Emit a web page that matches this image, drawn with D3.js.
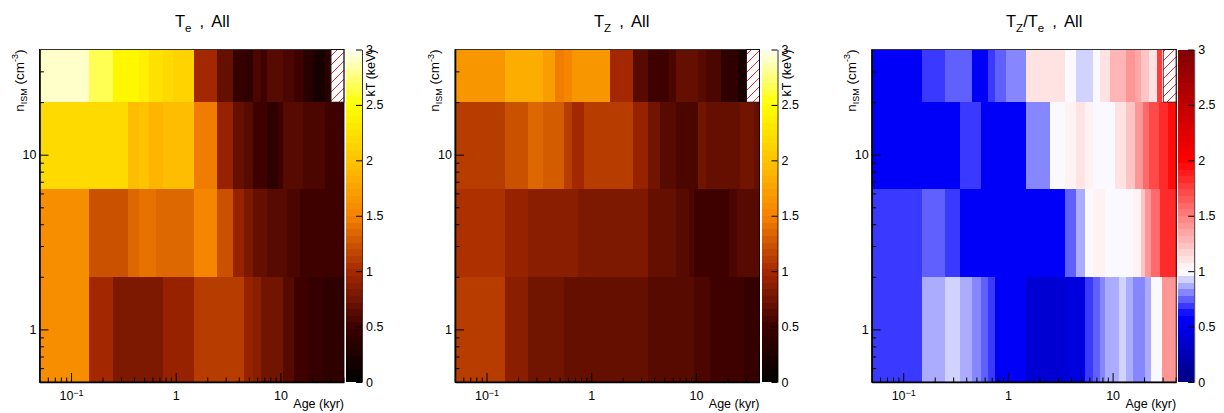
<!DOCTYPE html>
<html>
<head>
<meta charset="utf-8">
<script src="https://cdn.jsdelivr.net/npm/d3@7"></script>
<style>
  body { margin: 0; background: #fff; }
  svg { display: block; }
  text { font-family: "Liberation Sans", Arial, sans-serif; fill: #000; }
</style>
</head>
<body>
<svg></svg>
<script>
let width = 1224, height = 413;

let svg = d3.select("svg")
    .attr("width", width)
    .attr("height", height)
    .attr("viewBox", "0 0 " + width + " " + height);

// age bins (kyr): 0.1 .. 0.9 step 0.1, then 1 .. 40
const ageEdges = [0.05,0.15,0.25,0.35,0.45,0.55,0.65,0.75,0.85,0.95,
  1.5,2.5,3.5,4.5,5.5,6.5,7.5,8.5,9.5,10.5,11.5,12.5,13.5,14.5,15.5,16.5,17.5,18.5,19.5,20.5,
  21.5,22.5,23.5,24.5,25.5,26.5,27.5,28.5,29.5,30.5,31.5,32.5,33.5,34.5,35.5,36.5,37.5,38.5,39.5,40.5];
// density bins (cm^-3), bottom to top
const densEdges = [0.5, 2, 6.4, 20, 40];

// T_e (keV) per density row, bottom row first
const teRow0 = [1.60,0.97,0.78,0.78,0.78,0.83,0.83,0.90,0.90,0.90,
  1.14,1.14,1.08,0.92,0.88,0.76,0.76,0.76,0.76,0.62,
  0.62,0.62,0.52,0.52,0.52,0.52,0.52,0.46,0.46,0.46,
  0.46,0.46,0.46,0.46,0.42,0.42,0.42,0.42,0.42,0.42,
  0.40,0.40,0.40,0.40,0.40,0.40,0.40,0.40,0.40];
const teRow1 = [1.60,1.25,1.25,1.35,1.42,1.42,1.33,1.33,1.33,1.33,
  1.50,1.20,0.95,0.83,0.70,0.70,0.60,0.60,0.60,0.60,
  0.55,0.55,0.55,0.55,0.48,0.48,0.48,0.48,0.48,0.48,
  0.48,0.48,0.48,0.48,0.50,0.50,0.50,0.50,0.50,0.50,
  0.50,0.50,0.50,0.50,0.50,0.50,0.50,0.50,0.50];
const teRow2 = [2.20,2.17,2.17,1.95,2.00,1.90,1.90,1.95,1.95,1.95,
  1.47,0.92,0.69,0.60,0.52,0.52,0.42,0.42,0.52,0.62,
  0.62,0.62,0.62,0.62,0.62,0.57,0.57,0.57,0.57,0.57,
  0.57,0.57,0.57,0.57,0.57,0.48,0.48,0.48,0.48,0.48,
  0.48,0.48,0.48,0.48,0.48,0.48,0.48,0.48,0.48];
const teRow3 = [2.90,2.65,2.45,2.40,2.35,2.25,2.25,2.20,2.20,2.12,
  0.97,0.69,0.46,0.38,0.57,0.52,0.64,0.64,0.62,0.57,
  0.57,0.57,0.52,0.52,0.52,0.33,0.33,0.33,0.33,0.21,
  0.21,0.21,0.21,0.21,0.21,0.33,0.33,0.33,0.33,null,
  null,null,null,null,null,null,null,null,null];

// T_Z (keV)
const tzRow0 = [1.08,0.86,0.76,0.72,0.72,0.71,0.71,0.71,0.71,0.70,
  0.67,0.67,0.64,0.64,0.64,0.64,0.64,0.64,0.55,0.55,
  0.55,0.55,0.52,0.52,0.52,0.52,0.52,0.50,0.50,0.50,
  0.50,0.50,0.48,0.48,0.48,0.48,0.48,0.46,0.46,0.46,
  0.46,0.46,0.46,0.46,0.46,0.46,0.46,0.46,0.46];
const tzRow1 = [1.05,0.90,0.86,0.86,0.86,0.86,0.86,0.83,0.83,0.83,
  0.80,0.80,0.69,0.69,0.69,0.64,0.60,0.55,0.50,0.50,
  0.50,0.50,0.48,0.48,0.48,0.48,0.48,0.50,0.50,0.55,
  0.55,0.58,0.58,0.60,0.60,0.60,0.60,0.60,0.60,0.60,
  0.60,0.60,0.60,0.60,0.60,0.60,0.60,0.60,0.60];
const tzRow2 = [1.14,1.22,1.33,1.28,1.28,1.14,0.97,0.97,1.10,1.10,
  1.14,0.92,0.73,0.64,0.64,0.55,0.55,0.55,0.55,0.73,
  0.73,0.69,0.69,0.69,0.69,0.69,0.69,0.69,0.69,0.69,
  0.69,0.69,0.69,0.69,0.69,0.73,0.73,0.73,0.73,0.73,
  0.73,0.73,0.73,0.73,0.69,0.69,0.69,0.69,0.69];
const tzRow3 = [1.62,1.85,1.82,1.72,1.47,1.50,1.68,1.62,1.62,1.62,
  0.97,0.64,0.52,0.52,0.57,0.69,0.69,0.69,0.69,0.62,
  0.62,0.57,0.57,0.57,0.57,0.57,0.42,0.42,0.42,0.42,
  0.42,0.42,0.42,0.42,0.22,0.22,0.22,0.22,0.22,null,
  null,null,null,null,null,null,null,null,null];

// T_Z / T_e
const ratioRow0 = [0.66,0.87,0.93,0.87,0.80,0.74,0.70,0.55,0.55,0.55,
  0.40,0.40,0.47,0.47,0.66,0.72,0.80,0.87,0.87,0.87,
  0.93,0.93,0.87,0.87,0.79,0.79,0.79,0.79,0.79,0.87,
  0.87,0.87,0.96,0.96,0.96,1.00,1.00,1.00,1.40,1.40,
  1.40,1.40,1.40,1.40,1.40,1.40,1.40,1.40,1.40];
const ratioRow1 = [0.67,0.74,0.67,0.58,0.58,0.58,0.58,0.58,0.58,0.58,
  0.58,0.58,0.73,0.87,1.00,1.05,1.05,1.00,1.00,1.00,
  1.00,1.00,1.00,1.00,1.07,1.07,1.07,1.20,1.20,1.40,
  1.40,1.40,1.60,1.60,1.60,1.60,1.60,1.80,1.80,1.80,
  1.80,1.80,1.80,1.80,1.80,1.80,1.80,1.80,1.80];
const ratioRow2 = [0.58,0.58,0.58,0.67,0.67,0.58,0.58,0.58,0.58,0.58,
  0.80,1.00,1.07,1.13,1.05,1.00,1.00,1.00,1.00,1.12,
  1.12,1.12,1.25,1.25,1.25,1.40,1.40,1.40,1.57,1.57,
  1.57,1.69,1.69,1.69,1.69,1.69,1.80,1.80,1.80,1.80,
  1.80,1.80,1.96,1.96,1.96,1.96,1.96,1.96,1.96];
const ratioRow3 = [0.58,0.68,0.73,0.73,0.58,0.58,0.66,0.72,0.72,0.81,
  1.08,1.08,1.00,0.93,0.93,1.00,1.08,1.14,1.29,1.29,
  1.29,1.29,1.41,1.41,1.41,1.33,1.33,1.22,1.22,1.22,
  1.22,1.12,1.12,1.12,1.12,1.76,1.76,1.76,1.20,null,
  null,null,null,null,null,null,null,null,null];

const xMajorTicks = [0.1, 1, 10];
const xMinorTicks = [0.06,0.07,0.08,0.09,0.2,0.3,0.4,0.5,0.6,0.7,0.8,0.9,2,3,4,5,6,7,8,9,20,30,40];
const yMajorTicks = [1, 10];
const yMinorTicks = [0.5,0.6,0.7,0.8,0.9,2,3,4,5,6,7,8,9,20,30];
const zTicks = [0, 0.5, 1, 1.5, 2, 2.5, 3];

// palettes
let hot = d3.scaleLinear()
    .domain([0, 0.5, 1, 1.5, 2, 2.5, 3])
    .range(["#000000", "#3c0000", "#a52800", "#f58200", "#ffc300", "#ffff00", "#fffff5"])
    .clamp(true);
let diverge = d3.scaleLinear()
    .domain([0, 0.6, 1, 2, 3])
    .range(["#000080", "#0000ff", "#ffffff", "#ff0000", "#800000"])
    .clamp(true);

const nLev = 50, zMax = 3;
function levelValue(v) {
    let i = Math.min(nLev - 1, Math.max(0, Math.floor(v / zMax * nLev)));
    return (i + 0.5) * zMax / nLev;
}

let plotTop = 49.5, plotBottom = 382, frameW = 304.5;

// hatch for empty bins
let defs = svg.append("defs");
let pat = defs.append("pattern")
    .attr("id", "hatch")
    .attr("patternUnits", "userSpaceOnUse")
    .attr("width", 9).attr("height", 9);
pat.append("rect").attr("width", 9).attr("height", 9).attr("fill", "#fff");
pat.append("path")
    .attr("d", "M0,9 L9,0 M-1,1 L1,-1 M8,10 L10,8")
    .attr("stroke", "#ff2020").attr("stroke-width", 1);

let panels = [
    {left: 39.5, rows: [teRow0, teRow1, teRow2, teRow3], pal: hot, titleX: 175,
     title: [["T", 0], ["e", 1], [" , All", 0]], zTitle: true},
    {left: 455, rows: [tzRow0, tzRow1, tzRow2, tzRow3], pal: hot, titleX: 594,
     title: [["T", 0], ["Z", 1], [" , All", 0]], zTitle: true},
    {left: 871.7, rows: [ratioRow0, ratioRow1, ratioRow2, ratioRow3], pal: diverge, titleX: 1006,
     title: [["T", 0], ["Z", 1], ["/T", 0], ["e", 1], [" , All", 0]], zTitle: false}
];

panels.forEach(p => {
    let right = p.left + frameW;
    let x = d3.scaleLog().domain([0.05, 40.5]).range([p.left, right]);
    let y = d3.scaleLog().domain([0.5, 40]).range([plotBottom, plotTop]);
    let z = d3.scaleLinear().domain([0, zMax]).range([plotBottom, plotTop]);

    let g = svg.append("g");

    // cells
    let cells = [];
    p.rows.forEach((row, r) => {
        row.forEach((v, c) => {
            cells.push({r: r, c: c, v: v});
        });
    });
    g.append("g")
        .selectAll("rect")
        .data(cells)
        .enter()
        .append("rect")
        .attr("x", d => x(ageEdges[d.c]))
        .attr("y", d => y(densEdges[d.r + 1]))
        .attr("width", d => x(ageEdges[d.c + 1]) - x(ageEdges[d.c]) + 0.4)
        .attr("height", d => y(densEdges[d.r]) - y(densEdges[d.r + 1]) + 0.4)
        .attr("fill", d => d.v == null ? "url(#hatch)" : p.pal(levelValue(d.v)))
        .attr("shape-rendering", "crispEdges");

    // outline around empty bins
    p.rows.forEach((row, r) => {
        let empty = row.map((v, c) => v == null ? c : -1).filter(c => c >= 0);
        if (empty.length) {
            let c0 = d3.min(empty), c1 = d3.max(empty);
            g.append("rect")
                .attr("x", x(ageEdges[c0]))
                .attr("y", y(densEdges[r + 1]))
                .attr("width", x(ageEdges[c1 + 1]) - x(ageEdges[c0]))
                .attr("height", y(densEdges[r]) - y(densEdges[r + 1]))
                .attr("fill", "none")
                .attr("stroke", "#222")
                .attr("stroke-width", 0.8);
        }
    });

    // frame
    g.append("rect")
        .attr("x", p.left).attr("y", plotTop)
        .attr("width", frameW).attr("height", plotBottom - plotTop)
        .attr("fill", "none").attr("stroke", "#000").attr("stroke-width", 0.8);

    // x axis
    let xAxis = g.append("g")
        .attr("transform", "translate(0," + plotBottom + ")")
        .call(d3.axisBottom(x).tickValues(xMajorTicks).tickSize(-9).tickSizeOuter(0).tickPadding(9)
            .tickFormat(d => d === 0.1 ? "10" : d3.format("~g")(d)));
    xAxis.selectAll("text")
        .attr("font-size", 12.5)
        .attr("font-family", '"Liberation Sans", Arial, sans-serif')
        .each(function(d) {
            if (d === 0.1) {
                d3.select(this).append("tspan")
                    .attr("dy", "-0.45em").attr("font-size", 9).text("\u22121");
            }
        });
    g.append("g")
        .attr("transform", "translate(0," + plotBottom + ")")
        .call(d3.axisBottom(x).tickValues(xMinorTicks).tickSize(-4.5).tickSizeOuter(0).tickFormat(""))
        .select(".domain").remove();
    xAxis.select(".domain").attr("stroke-width", 1.6);

    // y axis
    let yAxis = g.append("g")
        .attr("transform", "translate(" + p.left + ",0)")
        .call(d3.axisLeft(y).tickValues(yMajorTicks).tickSize(-9).tickSizeOuter(0).tickPadding(3)
            .tickFormat(d3.format("~g")));
    yAxis.selectAll("text")
        .attr("font-size", 12.5)
        .attr("font-family", '"Liberation Sans", Arial, sans-serif');
    yAxis.select(".domain").attr("stroke-width", 1.6);
    g.append("g")
        .attr("transform", "translate(" + p.left + ",0)")
        .call(d3.axisLeft(y).tickValues(yMinorTicks).tickSize(-4.5).tickSizeOuter(0).tickFormat(""))
        .select(".domain").remove();

    // colour bar
    let cbX = right + 2, cbW = 16;
    let levels = d3.range(nLev);
    g.append("g")
        .selectAll("rect")
        .data(levels)
        .enter()
        .append("rect")
        .attr("x", cbX)
        .attr("y", i => z((i + 1) * zMax / nLev))
        .attr("width", cbW)
        .attr("height", i => z(i * zMax / nLev) - z((i + 1) * zMax / nLev) + 0.3)
        .attr("fill", i => p.pal((i + 0.5) * zMax / nLev))
        .attr("shape-rendering", "crispEdges");
    let zAxis = g.append("g")
        .attr("transform", "translate(" + (cbX + cbW) + ",0)")
        .call(d3.axisRight(z).tickValues(zTicks).tickSize(-6).tickSizeOuter(0).tickPadding(4)
            .tickFormat(d3.format("~g")));
    zAxis.selectAll("text")
        .attr("font-size", 12.5)
        .attr("font-family", '"Liberation Sans", Arial, sans-serif');
    zAxis.select(".domain").attr("stroke-width", 0.8);

    // titles
    let t = g.append("text")
        .attr("x", p.titleX).attr("y", 27)
        .attr("font-size", 16.5)
        .style("word-spacing", "3.5px");
    let shift = 0;
    p.title.forEach(part => {
        let dy = part[1] ? 4.5 - shift : -shift;
        shift = part[1] ? 4.5 : 0;
        t.append("tspan")
            .attr("dy", dy)
            .attr("font-size", part[1] ? 11.5 : 16.5)
            .text(part[0]);
    });

    let yt = g.append("text")
        .attr("transform", "translate(" + (p.left - 16) + "," + plotTop + ") rotate(-90)")
        .attr("text-anchor", "end")
        .attr("font-size", 13.5);
    yt.append("tspan").text("n");
    yt.append("tspan").attr("dy", 3).attr("font-size", 9).text("ISM");
    yt.append("tspan").attr("dy", -3).text(" (cm");
    yt.append("tspan").attr("dy", -5.5).attr("font-size", 9).text("-3");
    yt.append("tspan").attr("dy", 5.5).text(")");

    g.append("text")
        .attr("x", right).attr("y", 408)
        .attr("text-anchor", "end")
        .attr("font-size", 12.5)
        .text("Age (kyr)");

    if (p.zTitle) {
        g.append("text")
            .attr("transform", "translate(" + (right + 31) + "," + plotTop + ") rotate(-90)")
            .attr("text-anchor", "end")
            .attr("font-size", 12.5)
            .text("kT (keV)");
    }
});
</script>
</body>
</html>
